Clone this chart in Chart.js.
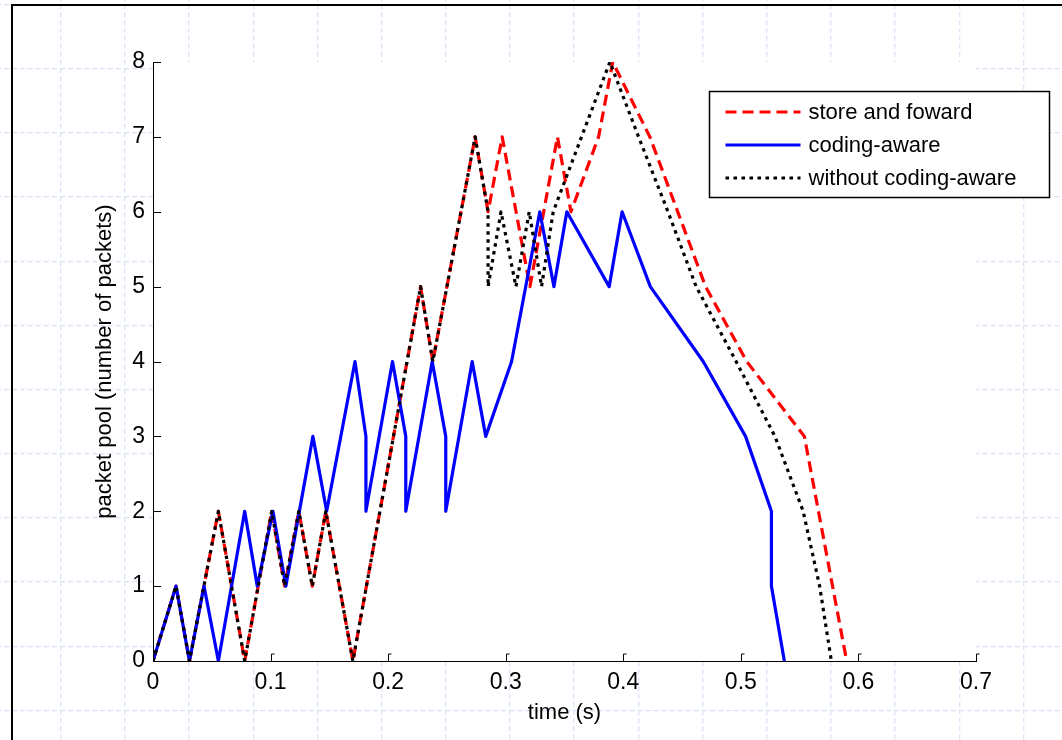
<!DOCTYPE html>
<html>
<head>
<meta charset="utf-8">
<script src="https://cdn.jsdelivr.net/npm/chart.js@4/dist/chart.umd.min.js"></script>
<style>
html,body{margin:0;padding:0;width:1062px;height:740px;overflow:hidden;background:#fff;}
#paper{position:absolute;left:0;top:0;width:1062px;height:740px;
  background-image:url("data:image/svg+xml;utf8,<svg xmlns='http://www.w3.org/2000/svg' width='64' height='64'><g stroke='%23d9e1f7' stroke-width='1.2' stroke-dasharray='5 3' fill='none'><path d='M0 0.7H64'/><path d='M0.7 0V64'/></g></svg>");
  background-size:64.2px 64.2px;background-position:60px 68px;}
#frame{position:absolute;left:11px;top:4px;width:1100px;height:800px;border-top:2px solid #000;border-left:2px solid #000;}
#c{position:absolute;left:0;top:0;}
</style>
</head>
<body>
<div id="paper"></div>
<div id="frame"></div>
<canvas id="c" width="1062" height="740"></canvas>
<script>
// ---- data ----
const xTickLabels = ['0','0.1','0.2','0.3','0.4','0.5','0.6','0.7'];
const yTickLabels = ['0','1','2','3','4','5','6','7','8'];
const seriesNames = ['store and foward','coding-aware','without coding-aware'];

const storeForwardTime = [0, 0.0196, 0.031, 0.0556, 0.078, 0.101, 0.112, 0.124, 0.1355, 0.147, 0.170, 0.2276, 0.238, 0.274, 0.285, 0.297, 0.3206, 0.344, 0.3555, 0.379, 0.391, 0.4226, 0.470, 0.505, 0.554, 0.590];
const storeForwardPool = [0, 1, 0, 2, 0, 2, 1, 2, 1, 2, 0, 5, 4, 7, 6, 7, 5, 7, 6, 7, 8, 7, 5, 4, 3, 0];

const codingAwareTime = [0, 0.0196, 0.031, 0.0434, 0.0556, 0.078, 0.0887, 0.102, 0.113, 0.136, 0.1477, 0.1718, 0.1811, 0.1811, 0.2037, 0.215, 0.215, 0.2375, 0.249, 0.249, 0.2715, 0.283, 0.305, 0.329, 0.341, 0.352, 0.388, 0.399, 0.423, 0.468, 0.504, 0.526, 0.526, 0.537];
const codingAwarePool = [0, 1, 0, 1, 0, 2, 1, 2, 1, 3, 2, 4, 3, 2, 4, 3, 2, 4, 3, 2, 4, 3, 4, 6, 5, 6, 5, 6, 5, 4, 3, 2, 1, 0];

const withoutTime = [0, 0.0196, 0.031, 0.0556, 0.078, 0.101, 0.112, 0.124, 0.1355, 0.147, 0.170, 0.2276, 0.238, 0.274, 0.285, 0.285, 0.296, 0.3087, 0.320, 0.3305, 0.3404, 0.3886, 0.413, 0.438, 0.462, 0.496, 0.529, 0.553, 0.567, 0.577];
const withoutPool = [0, 1, 0, 2, 0, 2, 1, 2, 1, 2, 0, 5, 4, 7, 6, 5, 6, 5, 6, 5, 6, 8, 7, 6, 5, 4, 3, 2, 1, 0];

function toPoints(ts, vs) { return ts.map((t, i) => ({x: t, y: vs[i]})); }

const FONT = '"Liberation Sans", Arial, Helvetica, sans-serif';
Chart.defaults.font.family = FONT;
Chart.defaults.color = '#000';

const plotBackground = {
  id: 'plotBackground',
  beforeDraw(chart) {
    const {ctx, chartArea: a} = chart;
    ctx.save();
    ctx.fillStyle = '#fff';
    ctx.fillRect(a.left, a.top, a.right - a.left, a.bottom - a.top);
    ctx.restore();
  }
};

const inwardTicks = {
  id: 'inwardTicks',
  afterDraw(chart) {
    const {ctx, chartArea: a, scales} = chart;
    ctx.save();
    ctx.strokeStyle = '#000';
    ctx.lineWidth = 1;
    ctx.beginPath();
    scales.y.ticks.forEach(t => {
      const y = Math.round(scales.y.getPixelForValue(t.value)) + 0.5;
      ctx.moveTo(a.left, y); ctx.lineTo(a.left + 8, y);
    });
    scales.x.ticks.forEach(t => {
      const x = Math.round(scales.x.getPixelForValue(t.value)) + 0.5;
      ctx.moveTo(x, a.bottom); ctx.lineTo(x, a.bottom - 7);
      ctx.moveTo(x, a.bottom - 7); ctx.lineTo(x + 3, a.bottom - 7);
    });
    ctx.stroke();
    ctx.restore();
  }
};

const boxLegend = {
  id: 'boxLegend',
  afterDraw(chart, args, opts) {
    const {ctx} = chart;
    const b = opts.box;
    ctx.save();
    ctx.fillStyle = '#fff';
    ctx.fillRect(b.left, b.top, b.width, b.height);
    ctx.strokeStyle = '#000';
    ctx.lineWidth = 1.5;
    ctx.strokeRect(b.left, b.top, b.width, b.height);
    ctx.font = opts.fontSize + 'px ' + FONT;
    ctx.textBaseline = 'middle';
    ctx.textAlign = 'left';
    opts.orderIdx.forEach((di, row) => {
      const ds = chart.data.datasets[di];
      const y = b.top + opts.firstRow + row * opts.rowGap;
      ctx.save();
      ctx.strokeStyle = ds.borderColor;
      ctx.lineWidth = ds.borderWidth;
      ctx.setLineDash(ds.borderDash || []);
      ctx.beginPath();
      ctx.moveTo(b.left + opts.sampleStart, y);
      ctx.lineTo(b.left + opts.sampleEnd, y);
      ctx.stroke();
      ctx.restore();
      ctx.fillStyle = '#000';
      ctx.fillText(ds.label, b.left + opts.textStart, y + 1);
    });
    ctx.restore();
  }
};

new Chart(document.getElementById('c'), {
  type: 'line',
  data: {
    datasets: [
      {label: seriesNames[0], data: toPoints(storeForwardTime, storeForwardPool),
       borderColor: '#ff0000', borderWidth: 3.2, borderDash: [11, 6], order: 2},
      {label: seriesNames[1], data: toPoints(codingAwareTime, codingAwarePool),
       borderColor: '#0000ff', borderWidth: 3.2, borderDash: [], order: 1},
      {label: seriesNames[2], data: toPoints(withoutTime, withoutPool),
       borderColor: '#000000', borderWidth: 3.2, borderDash: [3.5, 4.5], order: 0}
    ]
  },
  options: {
    responsive: false,
    animation: false,
    devicePixelRatio: 1,
    elements: {point: {radius: 0}, line: {tension: 0, fill: false, borderCapStyle: 'butt', borderJoinStyle: 'round'}},
    layout: {padding: {left: 92, top: 62, right: 86, bottom: 0}},
    plugins: {
      legend: {display: false},
      tooltip: {enabled: false},
      boxLegend: {
        box: {left: 709.5, top: 91.5, width: 340, height: 106},
        orderIdx: [0, 1, 2], firstRow: 20.5, rowGap: 33,
        sampleStart: 16, sampleEnd: 91, textStart: 99, fontSize: 22
      }
    },
    scales: {
      x: {
        type: 'linear', min: 0, max: 0.7,
        afterBuildTicks: s => { s.ticks = xTickLabels.map(v => ({value: parseFloat(v)})); },
        afterFit: s => { s.height = 79; },
        ticks: {callback: (v, i) => xTickLabels[i], padding: 8, maxRotation: 0, autoSkip: false, font: {size: 23}, color: '#000'},
        grid: {display: false, drawTicks: false},
        border: {display: true, color: '#000', width: 1},
        title: {display: true, text: 'time (s)', font: {size: 22}, color: '#000', padding: {top: 0, bottom: 14}}
      },
      y: {
        type: 'linear', min: 0, max: 8,
        afterBuildTicks: s => { s.ticks = yTickLabels.map(v => ({value: parseFloat(v)})); },
        afterFit: s => { s.width = 61; },
        ticks: {callback: (v, i) => yTickLabels[i], padding: 8, autoSkip: false, font: {size: 23}, color: '#000'},
        grid: {display: false, drawTicks: false},
        border: {display: true, color: '#000', width: 1},
        title: {display: true, text: 'packet pool (number of packets)', font: {size: 22}, color: '#000', padding: {top: 0, bottom: 0}}
      }
    }
  },
  plugins: [plotBackground, inwardTicks, boxLegend]
});
</script>
</body>
</html>
